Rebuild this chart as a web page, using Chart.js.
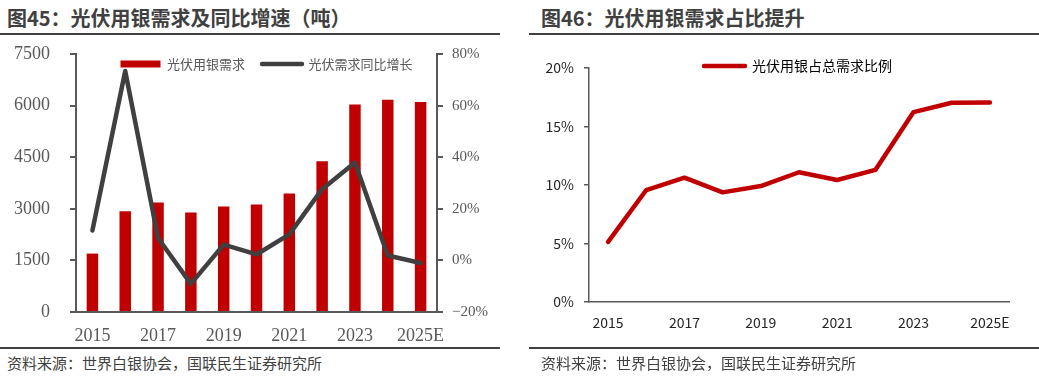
<!DOCTYPE html>
<html>
<head>
<meta charset="utf-8">
<script src="https://cdn.jsdelivr.net/npm/chart.js@4.4.1/dist/chart.umd.min.js"></script>
<style>
body{margin:0;width:1039px;height:385px;background:#fff;position:relative;overflow:hidden;font-family:"Noto Sans CJK SC",sans-serif}
.title{position:absolute;top:4px;font-size:20px;font-weight:bold;color:#404040;line-height:28px;white-space:nowrap}
.rule{position:absolute;height:2px;background:#404040}
.src{position:absolute;top:352px;font-size:15px;color:#404040;line-height:22px;white-space:nowrap}
canvas{position:absolute;top:0}
</style>
</head>
<body>
<div class="title" style="left:7px">图45：光伏用银需求及同比增速（吨）</div>
<div class="title" style="left:541px">图46：光伏用银需求占比提升</div>
<div class="rule" style="left:0;width:500px;top:33px"></div>
<div class="rule" style="left:529px;width:510px;top:33px"></div>
<canvas id="demandChart" width="533" height="345" style="left:0"></canvas>
<canvas id="shareChart" width="510" height="345" style="left:529px"></canvas>
<div class="rule" style="left:0;width:500px;top:347px"></div>
<div class="rule" style="left:529px;width:510px;top:347px"></div>
<div class="src" style="left:7px">资料来源：世界白银协会，国联民生证券研究所</div>
<div class="src" style="left:541px">资料来源：世界白银协会，国联民生证券研究所</div>
<script>
const years = ['2015','2016','2017','2018','2019','2020','2021','2022','2023','2024','2025E'];
// 光伏用银需求（吨）
const pvSilver = [1698, 2930, 3182, 2891, 3066, 3124, 3444, 4385, 6035, 6171, 6103];
// 光伏需求同比增长（%）
const pvGrowth = [11.6, 73.4, 8.7, -9.1, 6.1, 2.3, 10.1, 27.6, 37.9, 1.9, -1.0];
// 光伏用银占总需求比例（%）
const pvShare = [5.14, 9.57, 10.63, 9.37, 9.91, 11.09, 10.43, 11.29, 16.23, 17.03, 17.06];

function everyOther(v, i){ return i % 2 ? '' : years[i]; }
function pct(v){ return (v < 0 ? '\u2212' + (-v) : v) + '%'; }

// legend keeps its slot on top, then gets pushed down over the plot like in the original
function legendShift(dx, dy){
  return { id:'legendShift', afterLayout(chart){
    const l = chart.legend;
    l.left += dx; l.right += dx; l.top += dy; l.bottom += dy;
  }};
}
const baseLabels = Chart.defaults.plugins.legend.labels.generateLabels;
function roundLabels(chart){
  return baseLabels(chart).sort((a,b)=>a.datasetIndex-b.datasetIndex).map(l => Object.assign(l, {lineCap:'round'}));
}

const serif = 'Liberation Serif';
const grey = '#595959';

new Chart(document.getElementById('demandChart'), {
  data: {
    labels: years,
    datasets: [
      { type:'bar', label:'光伏用银需求', data:pvSilver, yAxisID:'y', backgroundColor:'#c00000', borderWidth:0,
        barPercentage:0.35, categoryPercentage:1, pointStyle:'rect', order:1 },
      { type:'line', label:'光伏需求同比增长', data:pvGrowth, yAxisID:'y1', borderColor:'#404040', backgroundColor:'#404040',
        borderWidth:4.5, pointRadius:0, tension:0, borderCapStyle:'round', borderJoinStyle:'round', pointStyle:'line', order:0 }
    ]
  },
  options: {
    responsive:false, animation:false,
    layout:{ padding:{ top:14 } },
    plugins:{
      tooltip:{ enabled:false },
      legend:{ position:'top', labels:{ usePointStyle:true, pointStyleWidth:40, boxHeight:7, padding:17, color:grey,
        font:{ family:'Noto Sans CJK SC', size:13 }, generateLabels:roundLabels } }
    },
    scales:{
      x:{ offset:true, grid:{ display:false }, border:{ color:grey, width:2 },
          ticks:{ autoSkip:false, maxRotation:0, padding:5, color:grey, font:{ family:serif, size:18 }, callback:everyOther },
          afterFit(s){ s.height = 33; } },
      y:{ position:'left', min:0, max:7500, border:{ color:grey, width:2 },
          grid:{ drawOnChartArea:false, tickLength:6, color:grey, lineWidth:2 },
          ticks:{ stepSize:1500, padding:20, color:grey, font:{ family:serif, size:18 }, callback:v => String(v) },
          afterFit(s){ s.width = 76; } },
      y1:{ position:'right', min:-20, max:80, border:{ color:grey, width:2 },
          grid:{ drawOnChartArea:false, tickLength:6, color:grey, lineWidth:2 },
          ticks:{ stepSize:20, padding:9, color:grey, font:{ family:serif, size:15 }, callback:pct },
          afterFit(s){ s.width = 96; } }
    }
  },
  plugins:[ legendShift(0, 26.5) ]
});

new Chart(document.getElementById('shareChart'), {
  type:'line',
  data: {
    labels: years,
    datasets: [
      { label:'光伏用银占总需求比例', data:pvShare, borderColor:'#c00000', backgroundColor:'#c00000', borderWidth:4.5,
        pointRadius:0, tension:0, borderCapStyle:'round', borderJoinStyle:'round', pointStyle:'line' }
    ]
  },
  options: {
    responsive:false, animation:false,
    layout:{ padding:{ top:34, right:30 } },
    plugins:{
      tooltip:{ enabled:false },
      legend:{ position:'top', labels:{ usePointStyle:true, pointStyleWidth:41, padding:10, color:'#000',
        font:{ family:'Noto Sans CJK SC', size:14 }, generateLabels:roundLabels } }
    },
    scales:{
      x:{ offset:true, grid:{ display:false }, border:{ color:grey, width:1.5 },
          ticks:{ autoSkip:false, maxRotation:0, padding:4, color:'#262626', font:{ family:'Noto Sans CJK SC', size:14 }, callback:everyOther },
          afterFit(s){ s.height = 43; } },
      y:{ min:0, max:20, border:{ color:grey, width:1.5 },
          grid:{ drawOnChartArea:false, tickLength:5, color:grey, lineWidth:1.5 },
          ticks:{ stepSize:5, padding:10, color:'#262626', font:{ family:'Noto Sans CJK SC', size:14 }, callback:pct },
          afterFit(s){ s.width = 60; } }
    }
  },
  plugins:[ legendShift(29, 15) ]
});
</script>
</body>
</html>
